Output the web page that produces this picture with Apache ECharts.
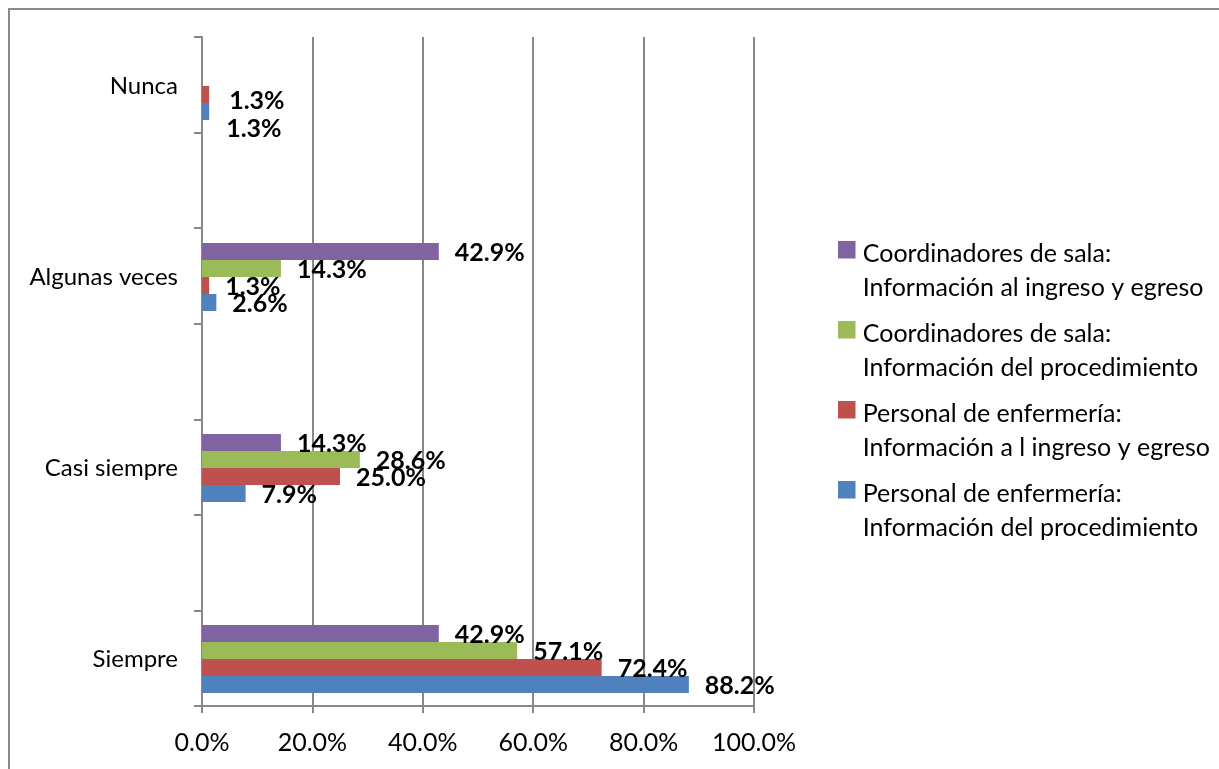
<!DOCTYPE html>
<html><head><meta charset="utf-8">
<script src="https://cdn.jsdelivr.net/npm/echarts@6/dist/echarts.min.js"></script>
<style>html,body{margin:0;padding:0;background:#fff}#c{width:1219px;height:769px}</style>
</head><body><div id="c"></div>
<script>
var categories = ['Siempre', 'Casi siempre', 'Algunas veces', 'Nunca'];
var seriesNames = [
  'Coordinadores de sala:\nInformación al ingreso y egreso',
  'Coordinadores de sala:\nInformación del procedimiento',
  'Personal de enfermería:\nInformación a l ingreso y egreso',
  'Personal de enfermería:\nInformación del procedimiento'
];
var coordIngreso = [42.9, 14.3, 42.9, null];
var coordProcedimiento = [57.1, 28.6, 14.3, null];
var enfIngreso = [72.4, 25.0, 1.3, 1.3];
var enfProcedimiento = [88.2, 7.9, 2.6, 1.3];
var xTicks = [0, 20, 40, 60, 80, 100];

var colors = ['#8064A2', '#9BBB59', '#C0504D', '#4F81BD'];
var font = 'Lato, "Noto Sans", sans-serif';
var allData = [coordIngreso, coordProcedimiento, enfIngreso, enfProcedimiento];
// label nudges for the crowded "Nunca" group (series index -> category index -> offset)
var labelNudge = {2: {3: [4, 6]}, 3: {3: [1, 17]}};

var chart = echarts.init(document.getElementById('c'));
var series = allData.map(function (arr, si) {
  return {
    type: 'bar', name: seriesNames[si], xAxisIndex: 0, yAxisIndex: 0,
    barWidth: 17, barGap: '0%',
    itemStyle: {color: colors[si]},
    label: {show: true, position: 'right', distance: 16, offset: [0, 1],
      fontFamily: font, fontWeight: 'bold', fontSize: 25, color: '#000',
      formatter: function (p) { return p.value.toFixed(1) + '%'; }},
    data: arr.map(function (v, ci) {
      var n = labelNudge[si] && labelNudge[si][ci];
      if (n && v != null) return {value: v, label: {offset: n}};
      return v;
    })
  };
});
var axisGray = '#888888';
chart.setOption({
  animation: false,
  textStyle: {fontFamily: font},
  graphic: [{type: 'rect', shape: {x: 9, y: 9, width: 1300, height: 900},
    style: {fill: 'none', stroke: '#8a8a8a', lineWidth: 2}, silent: true}],
  grid: [
    {left: 202, right: 465, top: -9.5, height: 764, outerBoundsMode: 'none'},
    {left: 202, right: 465, top: 37, bottom: 63, outerBoundsMode: 'none'}
  ],
  legend: {
    left: 833, top: 232, orient: 'vertical', itemWidth: 22, itemHeight: 60, itemGap: 12,
    data: seriesNames.slice(),
    textStyle: {fontFamily: font, fontSize: 25, color: '#000', lineHeight: 34},
    icon: 'path://M0,0h17.5v17.5h-17.5zM0,60h17.5v0h-17.5z', selectedMode: false
  },
  xAxis: [
    {type: 'value', gridIndex: 0, min: 0, max: 100, show: false},
    {type: 'value', gridIndex: 1, min: 0, max: 100, interval: 20,
      axisLine: {show: true, lineStyle: {color: axisGray, width: 2}},
      axisTick: {show: true, length: 7, lineStyle: {color: axisGray, width: 2}},
      splitLine: {show: true, lineStyle: {color: axisGray, width: 2}},
      axisLabel: {fontFamily: font, fontSize: 25, color: '#000', margin: 24,
        formatter: function (v) { return v.toFixed(1) + '%'; }}}
  ],
  yAxis: [
    {type: 'category', gridIndex: 0, data: categories,
      axisLine: {show: false}, axisTick: {show: false},
      axisLabel: {fontFamily: font, fontSize: 24, color: '#000', margin: 24}},
    {type: 'value', gridIndex: 1, min: 0, max: 7, interval: 1,
      axisLine: {show: true, lineStyle: {color: axisGray, width: 2}},
      axisTick: {show: true, length: 8, lineStyle: {color: axisGray, width: 2}},
      splitLine: {show: false}, axisLabel: {show: false}}
  ],
  series: series
});
</script></body></html>
